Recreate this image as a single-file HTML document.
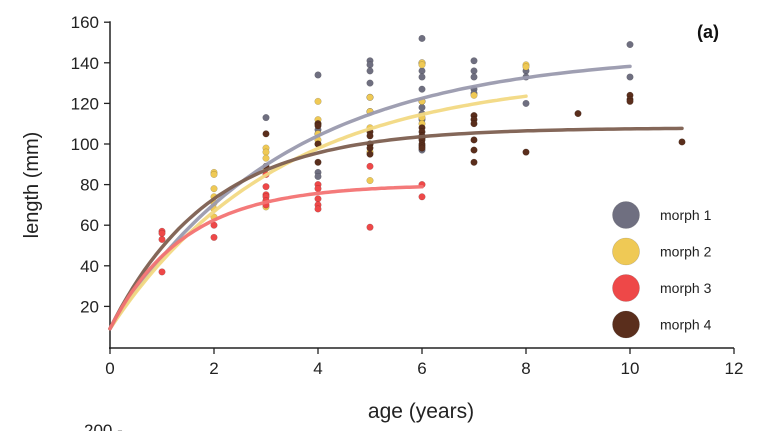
<!DOCTYPE html>
<html><head><meta charset="utf-8"><style>
body{margin:0;background:#fff;}
svg{font-family:"Liberation Sans",Arial,sans-serif;}
</style></head><body>
<svg id="c" width="771" height="431"></svg>
<script>
const xTicks=[0,2,4,6,8,10,12];
const yTicks=[20,40,60,80,100,120,140,160];
const seriesNames=["morph 1","morph 2","morph 3","morph 4"];
const seriesColors=["#6f6f80","#efc955","#ee4848","#5a2e1c"];
const curveColors=["#9a9aae","#f2d983","#f37373","#7d5f50"];
const m1Age=[3,4,4,4,4,4,5,5,5,5,5,5,5,6,6,6,6,6,6,6,6,6,6,7,7,7,7,7,8,8,8,10,10];
const m1Len=[113,134,86,84,105,107,141,139,136,130,123,116,100,152,140,136,133,127,121,118,115,112,97,141,136,133,127,125,136,133,120,149,133];
const m2Age=[2,2,2,2,2,2,2,3,3,3,3,3,3,4,4,4,4,4,4,5,5,5,5,5,5,6,6,6,6,6,6,7,8,8];
const m2Len=[86,85,78,74,71,68,64,98,96,93,88,72,69,121,112,110,105,102,100,123,116,108,100,96,82,140,139,121,113,110,103,124,139,138];
const m3Age=[1,1,1,1,2,2,3,3,3,3,3,3,4,4,4,4,4,5,5,6,6];
const m3Len=[57,56,53,37,60,54,85,79,75,74,72,70,80,78,73,70,68,89,59,80,74];
const m4Age=[3,3,4,4,4,4,5,5,5,5,5,6,6,6,6,6,6,6,6,7,7,7,7,7,7,8,9,10,10,10,11];
const m4Len=[105,89,110,109,100,91,106,104,100,98,95,108,106,104,103,102,100,99,98,114,112,110,102,97,91,96,115,124,122,121,101];
const curveLinf=[145,134,80,108];
const curveK=[0.3,0.31,0.7,0.52];
const curveL0=[9,9,9,9];
const curveEnd=[10,8,6,11];
const svg=document.getElementById('c');
const NS='http://www.w3.org/2000/svg';
const X=v=>110+v*52;
const Y=v=>347-v*2.03;
function mk(t,a,p){const e=document.createElementNS(NS,t);for(const k in a)e.setAttribute(k,a[k]);(p||svg).appendChild(e);return e;}
let ax=mk('g',{});


mk('line',{x1:110,y1:Y(160)-1,x2:110,y2:349,stroke:'#222','stroke-width':1.5},ax);
mk('line',{x1:109,y1:348,x2:X(12),y2:348,stroke:'#222','stroke-width':1.5},ax);
xTicks.forEach(t=>{mk('line',{x1:X(t),y1:348,x2:X(t),y2:354,stroke:'#222','stroke-width':1.3},ax);
 const tx=mk('text',{x:X(t),y:374,'font-size':17,'text-anchor':'middle',fill:'#222'},ax);tx.textContent=t;
 });
yTicks.forEach(t=>{mk('line',{x1:104,y1:Y(t),x2:110,y2:Y(t),stroke:'#222','stroke-width':1.3},ax);
 const tx=mk('text',{x:99,y:Y(t)+6,'font-size':17,'text-anchor':'end',fill:'#222'},ax);tx.textContent=t;
 });
let yl=mk('text',{x:38,y:185,'font-size':20,'text-anchor':'middle',fill:'#222',transform:'rotate(-90 38 185)'});yl.textContent='length (mm)';

let xl=mk('text',{x:421,y:418,'font-size':21,'text-anchor':'middle',fill:'#222'});xl.textContent='age (years)';

let cut=mk('text',{x:84,y:436,'font-size':17,fill:'#222'});cut.textContent='200 -';

let pa=mk('text',{x:697,y:38,'font-size':18,'font-weight':'bold',fill:'#111'});pa.textContent='(a)';

const pts=[[m1Age,m1Len],[m2Age,m2Len],[m3Age,m3Len],[m4Age,m4Len]];
pts.forEach((p,i)=>{const g=mk('g',{});
 
 p[0].forEach((a,j)=>{const c=mk('circle',{cx:X(a),cy:Y(p[1][j]),r:3.3,fill:seriesColors[i],stroke:'rgba(0,0,0,0.25)','stroke-width':0.5},g);
 });});
[0,1,3,2].forEach(i=>{let d='';for(let s=0;s<=100;s++){const t=curveEnd[i]*s/100;
 const L=curveLinf[i]-(curveLinf[i]-curveL0[i])*Math.exp(-curveK[i]*t);d+=(s?'L':'M')+X(t).toFixed(1)+' '+Y(L).toFixed(1);}
 const p=mk('path',{d:d,fill:'none',stroke:curveColors[i],'stroke-width':3.5,'stroke-linecap':'round',opacity:0.95});
 });
const lg=mk('g',{});
seriesNames.forEach((n,i)=>{const y=215+i*36.5;
 const e=mk('g',{},lg);
 mk('circle',{cx:626,cy:y,r:13.5,fill:seriesColors[i],stroke:'rgba(0,0,0,0.2)','stroke-width':0.6},e);
 const t=mk('text',{x:660,y:y+5,'font-size':14,fill:'#222'},e);t.textContent=n;});
</script>
</body></html>
